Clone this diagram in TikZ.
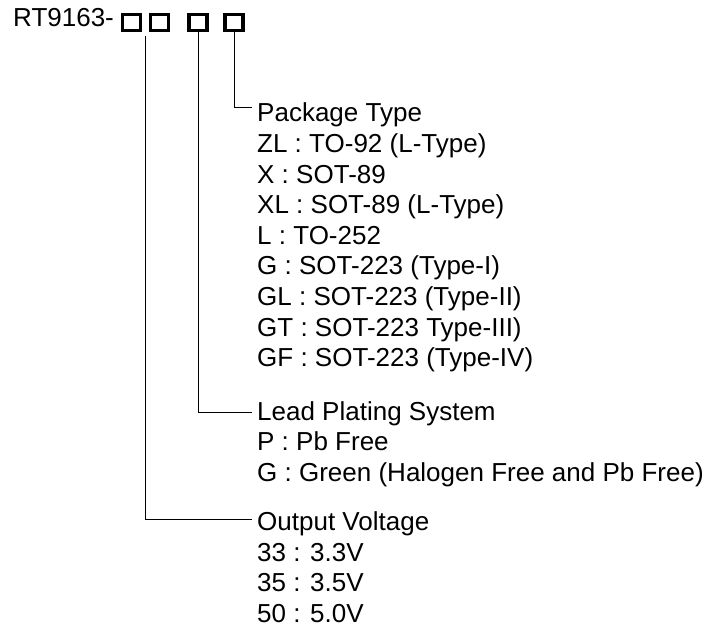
\documentclass[tikz,border=0pt]{standalone}
\usepackage{fontspec}
\setmainfont{Liberation Sans}
\usetikzlibrary{calc}
\begin{document}
\begin{tikzpicture}[x=1pt,y=1pt,
  txt/.style={anchor=base west,inner sep=0pt,font=\fontsize{26}{30}\selectfont},
  digitbox/.style={draw,line width=3.4pt,minimum width=18pt,minimum height=16.5pt,inner sep=0pt},
  conn/.style={line width=1pt}]
\useasboundingbox (0,0) rectangle (715,-628);
% part number
\node[txt] (pn) at (13,-27) {RT9163-};
\node[digitbox] (b1) at (131.5,-22.5) {};
\node[digitbox] (b2) at (159.5,-22.5) {};
\node[digitbox] (b3) at (198,-22.5) {};
\node[digitbox] (b4) at (234,-22.5) {};
% package type
\node[txt] (pkg) at (257,-122) {Package Type};
\node[txt] (p1) at (257,-152.6) {ZL : TO-92 (L-Type)};
\node[txt] (p2) at (257,-183.2) {X : SOT-89};
\node[txt] (p3) at (257,-213.8) {XL : SOT-89 (L-Type)};
\node[txt] (p4) at (257,-244.4) {L : TO-252};
\node[txt] (p5) at (257,-275) {G : SOT-223 (Type-I)};
\node[txt] (p6) at (257,-305.6) {GL : SOT-223 (Type-II)};
\node[txt] (p7) at (257,-336.2) {GT : SOT-223 Type-III)};
\node[txt] (p8) at (257,-366.8) {GF : SOT-223 (Type-IV)};
% lead plating
\node[txt] (lead) at (257,-420) {Lead Plating System};
\node[txt] (l1) at (257,-450.6) {P : Pb Free};
\node[txt] (l2) at (257,-481.2) {G : Green (Halogen Free and Pb Free)};
% output voltage
\node[txt] (out) at (257,-530) {Output Voltage};
\node[txt] (o1) at (257,-561) {33 : 3.3V};
\node[txt] (o2) at (257,-591.5) {35 : 3.5V};
\node[txt] (o3) at (257,-622) {50 : 5.0V};
% connectors
\coordinate (v1) at ($(b1.south east)!0.5!(b2.south west)+(0,-4)$);
\coordinate (e3) at ($(pkg.base west)+(-5,14)$);
\coordinate (e2) at ($(lead.base west)+(-5,8)$);
\coordinate (e1) at ($(out.base west)+(-5,11)$);
\draw[conn] (b4.south) |- (e3);
\draw[conn] (b3.south) |- (e2);
\draw[conn] (v1) |- (e1);
\end{tikzpicture}
\end{document}
